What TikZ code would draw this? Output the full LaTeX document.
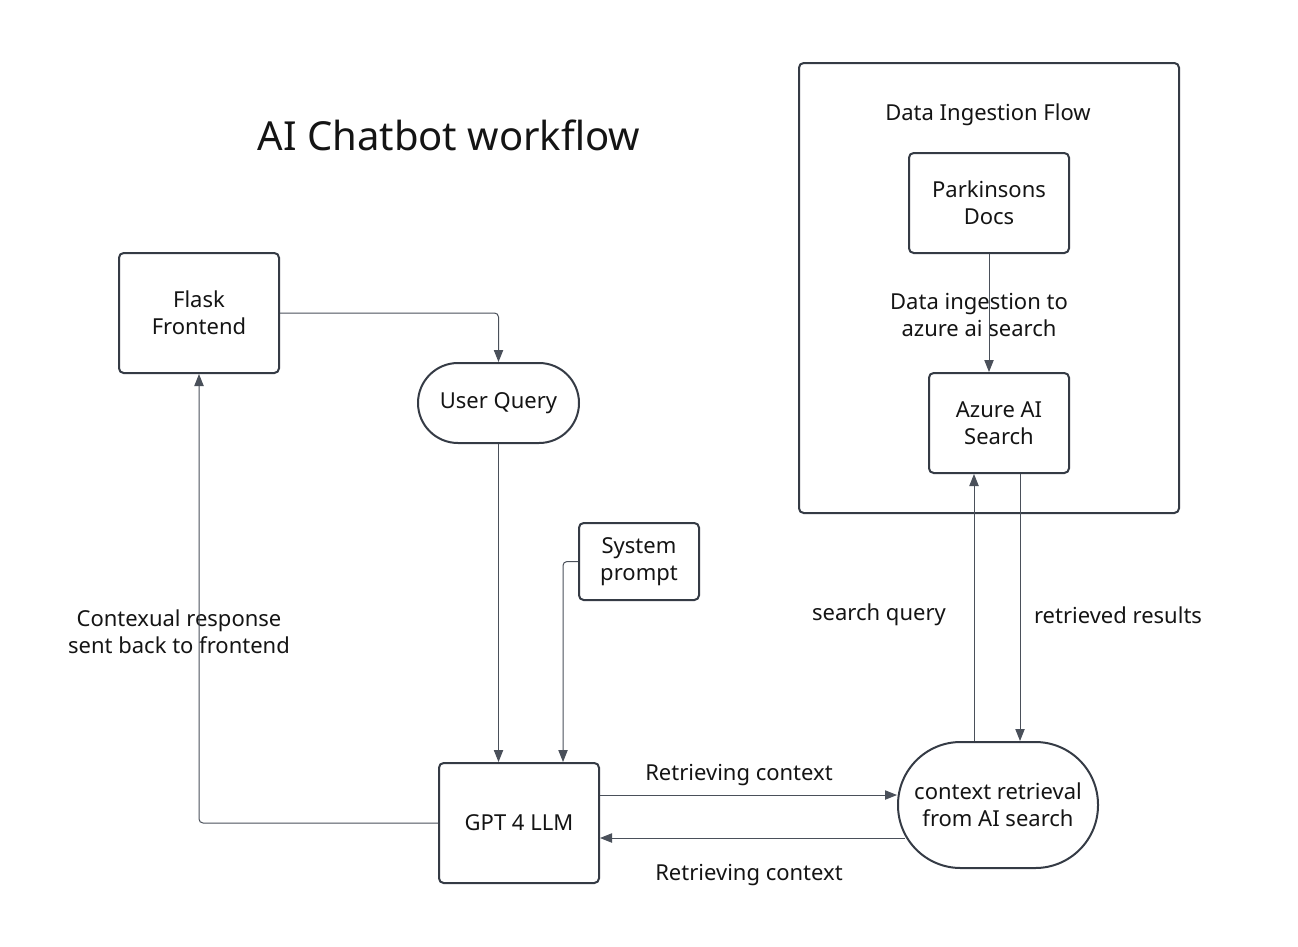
\documentclass[tikz,border=0pt]{standalone}
\usepackage{fontspec}
\setmainfont{Noto Sans}
\usetikzlibrary{arrows.meta}

\definecolor{edgecol}{HTML}{353B45}
\definecolor{linecol}{HTML}{4A505A}
\definecolor{txtcol}{HTML}{141414}

\begin{document}
\begin{tikzpicture}[x=0.75pt,y=-0.75pt]
  \tikzset{box/.style={draw=edgecol, line width=1.5pt, rounded corners=3.5pt,
      align=center, inner sep=0, text=txtcol,
      font=\fontsize{16.5pt}{20pt}\selectfont},
    pill/.style={box, rounded corners=#1},
    lbl/.style={align=center, inner sep=0, text=txtcol,
      font=\fontsize{16.5pt}{20pt}\selectfont},
    conn/.style={draw=linecol, line width=0.75pt, rounded corners=3pt,
      -{Triangle[length=9pt,width=7pt]}}}
  \useasboundingbox (0,0) rectangle (1298,946);
  \node[lbl, font=\fontsize{30pt}{34pt}\selectfont] (title) at (449,135) {AI Chatbot workflow};
  % data ingestion container
  \node[box, minimum width=285pt, minimum height=337.5pt] (ing) at (989,288) {};
  \node[lbl] (ingt) at (988,115) {Data Ingestion Flow};
  \node[box, minimum width=120pt, minimum height=75pt] (pd) at (989,203) {Parkinsons\\Docs};
  \node[box, minimum width=105pt, minimum height=75pt] (az) at (999,423) {Azure AI\\Search};
  % main flow
  \node[box, minimum width=120pt, minimum height=90pt] (flask) at (199,313) {Flask\\Frontend};
  \node[pill=30pt, minimum width=120.75pt, minimum height=60pt] (uq) at (498.5,403) {User Query};
  \node[box, minimum width=90pt, minimum height=57.75pt] (sys) at (639,561.5) {System\\prompt};
  \node[box, minimum width=120pt, minimum height=90pt] (gpt) at (519,823) {GPT 4 LLM};
  \node[pill=47pt, minimum width=150pt, minimum height=94.5pt] (ctx) at (998,805) {context retrieval\\from AI search};
  % labels
  \node[lbl] (lin) at (979,315) {Data ingestion to\\azure ai search};
  \node[lbl] (lres) at (179,632) {Contexual response\\sent back to frontend};
  \node[lbl] (lsq) at (879,615) {search query};
  \node[lbl] (lrr) at (1118,615) {retrieved results};
  \node[lbl] (lrc1) at (739,775) {Retrieving context};
  \node[lbl] (lrc2) at (749,875) {Retrieving context};
  % connectors
  \draw[conn] (pd.south) -- (pd.south |- az.north);
  \draw[conn] (flask.east) -| (uq.north);
  \draw[conn] (uq.south) -- (uq.south |- gpt.north);
  \draw[conn] (sys.west) -| ([xshift=33pt]gpt.north);
  \draw[conn] (gpt.west) -| (flask.south);
  \draw[conn] ([yshift=21pt]gpt.east) -- ([yshift=21pt]gpt.east -| ctx.west);
  \draw[conn] ([xshift=6pt,yshift=-24.75pt]ctx.west) -- ([yshift=-11.25pt]gpt.east);
  \draw[conn] ([xshift=-18pt]ctx.north) -- ([xshift=-18pt]ctx.north |- az.south);
  \draw[conn] ([xshift=16.5pt]ctx.north |- az.south) -- ([xshift=16.5pt]ctx.north);
\end{tikzpicture}
\end{document}
